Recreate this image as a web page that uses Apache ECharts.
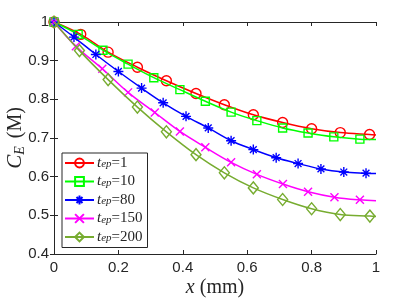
<!DOCTYPE html>
<html>
<head>
<meta charset="utf-8">
<script src="https://cdn.jsdelivr.net/npm/echarts@6/dist/echarts.min.js"></script>
<style>
html,body{margin:0;padding:0;background:#fff;}
#c{width:415px;height:301px;}
</style>
</head>
<body>
<div id="c"></div>
<script>
// ---- data ----
const seriesNames = ['t_ep=1', 't_ep=10', 't_ep=80', 't_ep=150', 't_ep=200'];
const legendValues = ['1', '10', '80', '150', '200'];

const x1 = [0, 0.083, 0.168, 0.259, 0.349, 0.441, 0.529, 0.619, 0.710, 0.800, 0.889, 0.980, 1];
const y1 = [1, 0.968, 0.922, 0.883, 0.848, 0.815, 0.786, 0.760, 0.740, 0.724, 0.714, 0.709, 0.708];

const x10 = [0, 0.075, 0.152, 0.230, 0.310, 0.391, 0.470, 0.550, 0.630, 0.710, 0.789, 0.869, 0.950, 1];
const y10 = [1, 0.968, 0.927, 0.891, 0.856, 0.825, 0.795, 0.767, 0.745, 0.726, 0.713, 0.703, 0.697, 0.696];

const x80 = [0, 0.062, 0.130, 0.200, 0.272, 0.339, 0.410, 0.479, 0.550, 0.619, 0.690, 0.758, 0.829, 0.900, 0.969, 1];
const y80 = [1, 0.961, 0.916, 0.872, 0.829, 0.791, 0.756, 0.726, 0.693, 0.670, 0.649, 0.634, 0.620, 0.612, 0.609, 0.608];

const x150 = [0, 0.068, 0.150, 0.230, 0.313, 0.391, 0.470, 0.550, 0.630, 0.711, 0.789, 0.871, 0.950, 1];
const y150 = [1, 0.937, 0.879, 0.818, 0.766, 0.717, 0.676, 0.637, 0.606, 0.581, 0.561, 0.547, 0.540, 0.538];

const x200 = [0, 0.079, 0.168, 0.259, 0.349, 0.441, 0.529, 0.619, 0.710, 0.800, 0.889, 0.981, 1];
const y200 = [1, 0.926, 0.851, 0.780, 0.716, 0.657, 0.610, 0.571, 0.541, 0.517, 0.502, 0.498, 0.497];

const xTicks = [0, 0.2, 0.4, 0.6, 0.8, 1];
const yTicks = [0.4, 0.5, 0.6, 0.7, 0.8, 0.9, 1];

// ---- styling ----
const colors = ['#ff0000', '#00ff00', '#0000ff', '#ff00ff', '#77ac30'];
const symbols = [
  'circle',
  'rect',
  'path://M0,5L10,5M5,0L5,10M1.6,1.6L8.4,8.4M8.4,1.6L1.6,8.4',
  'path://M0,0L10,10M10,0L0,10',
  'diamond'
];
const symbolSizes = [10, 8, 10, 8, [10, 12]];
const xs = [x1, x10, x80, x150, x200];
const ys = [y1, y10, y80, y150, y200];
const axisColor = '#262626';
const SANS = "Liberation Sans";
const SERIF = "Liberation Serif";

function mk(i) {
  const data = xs[i].map((x, k) => {
    const item = { value: [x, ys[i][k]] };
    if (k === xs[i].length - 1) item.symbol = 'none';
    return item;
  });
  return {
    name: seriesNames[i],
    type: 'line',
    xAxisIndex: 0, yAxisIndex: 0,
    data: data,
    smooth: 0.35,
    symbol: symbols[i],
    symbolSize: symbolSizes[i],
    showAllSymbol: true,
    color: colors[i],
    lineStyle: { color: colors[i], width: 1.5 },
    itemStyle: { color: 'rgba(255,255,255,0)', borderColor: colors[i], borderWidth: 1.4 },
    emphasis: { disabled: true },
    animation: false,
    z: 3 + i
  };
}

const chart = echarts.init(document.getElementById('c'), null, { renderer: 'canvas' });

function tickLabel(margin) {
  return {
    margin: margin,
    fontFamily: SANS, fontSize: 15, color: axisColor,
    formatter: v => String(+(+v).toFixed(1))
  };
}

const option = {
  backgroundColor: '#ffffff',
  animation: false,
  textStyle: { fontFamily: SANS },
  grid: { left: 54, right: 39, top: 22, bottom: 47, containLabel: false, outerBoundsMode: 'none' },
  xAxis: [{
    type: 'value', min: 0, max: 1, interval: 0.2, position: 'bottom',
    axisLine: { show: true, lineStyle: { color: axisColor, width: 1 } },
    axisTick: { show: true, inside: true, length: 4, lineStyle: { color: axisColor } },
    splitLine: { show: false },
    axisLabel: tickLabel(6),
    name: '{i|x} (mm)',
    nameLocation: 'middle', nameGap: 24, nameMoveOverlap: false,
    nameTextStyle: {
      fontFamily: SERIF, fontSize: 20, color: axisColor,
      rich: { i: { fontFamily: SERIF, fontStyle: 'italic', fontSize: 20, color: axisColor } }
    }
  }, {
    type: 'value', min: 0, max: 1, interval: 0.2, position: 'top',
    axisLine: { show: true, lineStyle: { color: axisColor, width: 1 } },
    axisTick: { show: true, inside: true, length: 4, lineStyle: { color: axisColor } },
    splitLine: { show: false }, axisLabel: { show: false }
  }],
  yAxis: [{
    type: 'value', min: 0.4, max: 1, interval: 0.1, position: 'left',
    axisLine: { show: true, lineStyle: { color: axisColor, width: 1 } },
    axisTick: { show: true, inside: true, length: 4, lineStyle: { color: axisColor } },
    splitLine: { show: false },
    axisLabel: tickLabel(5),
    name: '{i|C}{s|E} (M)',
    nameLocation: 'middle', nameGap: 27, nameRotate: 90, nameMoveOverlap: false,
    nameTextStyle: {
      fontFamily: SERIF, fontSize: 20, color: axisColor,
      rich: {
        i: { fontFamily: SERIF, fontStyle: 'italic', fontSize: 21, color: axisColor },
        s: { fontFamily: SERIF, fontStyle: 'italic', fontSize: 14, color: axisColor, verticalAlign: 'bottom', padding: [9, 3, 0, 0] }
      }
    }
  }, {
    type: 'value', min: 0.4, max: 1, interval: 0.1, position: 'right',
    axisLine: { show: true, lineStyle: { color: axisColor, width: 1 } },
    axisTick: { show: true, inside: true, length: 4, lineStyle: { color: axisColor } },
    splitLine: { show: false }, axisLabel: { show: false }
  }],
  legend: {
    orient: 'vertical',
    left: 62, top: 153,
    padding: [2, 5, 3, 2],
    itemWidth: 29, itemHeight: 11, itemGap: 3,
    backgroundColor: '#ffffff',
    borderColor: axisColor, borderWidth: 1,
    selectedMode: false,
    data: seriesNames,
    formatter: function (name) {
      const i = seriesNames.indexOf(name);
      return '{t|t}{s|ep}{n|=' + legendValues[i] + '}';
    },
    textStyle: {
      padding: [0, 0, 0, -2],
      rich: {
        t: { fontFamily: SERIF, fontStyle: 'italic', fontSize: 15, color: axisColor, lineHeight: 14 },
        s: { fontFamily: SERIF, fontStyle: 'italic', fontSize: 11, color: axisColor, verticalAlign: 'bottom', padding: [4, 0, 0, 0], lineHeight: 10 },
        n: { fontFamily: SERIF, fontSize: 15, color: axisColor, lineHeight: 14 }
      }
    }
  },
  series: [0, 1, 2, 3, 4].map(mk)
};
chart.setOption(option);
</script>
</body>
</html>
